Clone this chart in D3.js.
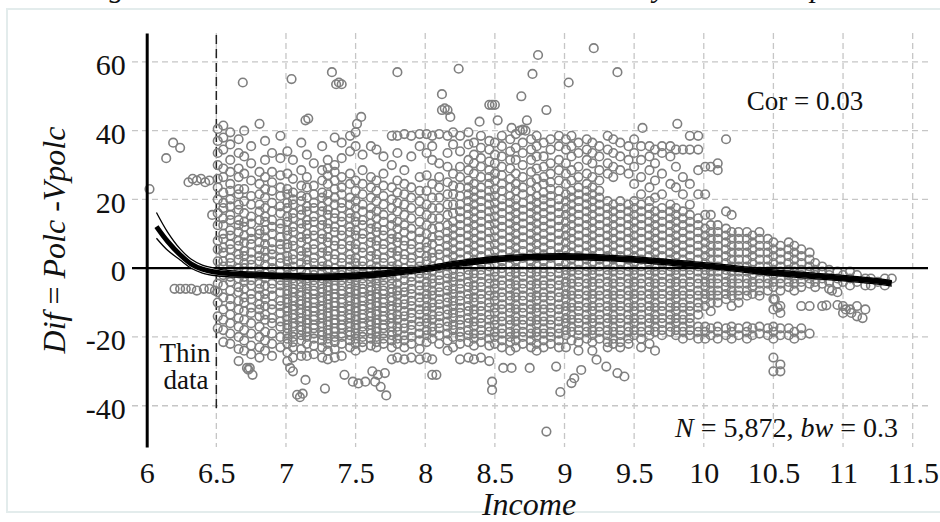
<!DOCTYPE html>
<html lang="en">
<head>
<meta charset="UTF-8">
<title>Dif vs Income</title>
<script src="https://d3js.org/d3.v7.min.js"></script>
<style>
  body { margin: 0; background: #fff; }
  svg text { font-family: "Liberation Serif", "Times New Roman", serif; fill: #111; }
</style>
</head>
<body>
<svg width="940" height="522"></svg>
<script>
const xTicks = [6, 6.5, 7, 7.5, 8, 8.5, 9, 9.5, 10, 10.5, 11, 11.5];
const yTicks = [60, 40, 20, 0, -20, -40];

// scatter, read column by column (income, then Dif values in that column)
const colIncome = [
  6.51, 6.55, 6.60, 6.66, 6.70, 6.75, 6.81, 6.85, 6.90, 6.96,
  7.01, 7.05, 7.11, 7.15, 7.20, 7.26, 7.30, 7.35, 7.40, 7.46,
  7.50, 7.55, 7.61, 7.65, 7.70, 7.76, 7.80, 7.85, 7.90, 7.96,
  8.01, 8.05, 8.10, 8.16, 8.20, 8.25, 8.31, 8.35, 8.40, 8.46,
  8.50, 8.55, 8.61, 8.65, 8.70, 8.76, 8.80, 8.85, 8.90, 8.96,
  9.01, 9.05, 9.10, 9.16, 9.20, 9.25, 9.31, 9.35, 9.40, 9.46,
  9.50, 9.55, 9.61, 9.65, 9.70, 9.76, 9.80, 9.85, 9.90, 9.96,
  10.01, 10.05, 10.10, 10.16, 10.20, 10.25, 10.31, 10.35, 10.40, 10.46,
  10.50, 10.55, 10.61, 10.65, 10.70, 10.76, 10.80, 10.85, 10.90, 10.96,
  11.00, 11.05, 11.10, 11.16, 11.20, 11.25, 11.30, 11.35
];
const colDif = [
  "40.5 37 33.5 30 26 23.5 20 16 12.5 8 5.5 2 -1 -4.5 -7 -10 -14 -17.5",
  "41.5 38 34.5 29 26.5 22 19 17.5 14.5 12.5 10 8.5 6 4.5 2 0.5 -2 -5 -8.5 -12 -15 -18 -21.5",
  "39.5 36 31.5 28 24.5 22.5 20 18 15.5 14 11 9.5 7 5.5 3 1.5 -0.5 -2.5 -4 -6.5 -9 -11 -13.5 -16 -19 -22",
  "37.5 33.5 29 26.5 23 21.5 18.5 17 14 12.5 10.5 8 6.5 4 2.5 0 -1.5 -3 -5.5 -7 -9.5 -12 -14.5 -17 -20 -23.5",
  "40 32.5 27.5 23 19.5 16 13.5 12 9.5 7.5 5 3.5 1.5 0 -2.5 -4 -6 -8.5 -10 -12.5 -15 -18 -21 -24",
  "35.5 30.5 25.5 21 18.5 15 13 10.5 8.5 7 4.5 2.5 1 -1 -3.5 -5 -7.5 -9 -11.5 -13 -16 -19 -22.5 -25",
  "28 24.5 21.5 18.5 16.5 14 11 10 7.5 5.5 3.5 2 -0.5 -2 -4.5 -6 -8 -10.5 -12 -14 -17 -20 -23 -26",
  "37 31.5 26.5 23 20.5 17.5 15 13.5 11 9 7 5 3 1 -1.5 -3 -5 -7.5 -9 -11 -13.5 -15 -18.5 -21 -24",
  "33.5 28 25 22.5 19 16.5 14 12 10 7.5 5.5 4 2 0 -2 -4.5 -6 -8 -10.5 -12 -14.5 -16 -19 -22 -25.5",
  "38.5 32 27 23.5 21 18 16 13 11.5 9 7 5.5 3 1.5 -1 -3.5 -5 -7 -9.5 -11 -13 -15.5 -17 -20 -23",

  "34 27.5 23 21.5 19 17.5 15 13.5 11 9.5 7 6 3.5 2 0 -2 -3.5 -5 -6.5 -7.5 -9 -10 -11.5 -12.5 -14 -15 -16.5 -17.5 -19 -20.5 -22 -24.5 -27",
  "31.5 26 22 20 18.5 16 14.5 12 10.5 8 6.5 4 2.5 0.5 -1 -3 -4.5 -6 -7 -8.5 -9.5 -11 -12 -13.5 -14.5 -16 -17 -18.5 -20 -21.5 -23 -26",
  "36.5 28.5 24 21 19.5 17 15.5 13 11.5 9 7.5 5 3.5 1.5 -0.5 -2.5 -4 -5.5 -7 -8 -9.5 -10.5 -12 -13 -14.5 -15.5 -17 -18 -19.5 -21 -23.5 -25.5",
  "33 26.5 23.5 20.5 18 16.5 14 12.5 10 8.5 6 4.5 2.5 1 -1.5 -3 -4.5 -6 -7.5 -8.5 -10 -11 -12.5 -13.5 -15 -16 -17.5 -18.5 -20 -22 -25.5",
  "30.5 24 21.5 19 17.5 15 13.5 11 9.5 7 5.5 3 1.5 -0.5 -2 -3.5 -5 -6.5 -7.5 -9 -10 -11.5 -12.5 -14 -15 -16.5 -17.5 -19 -20.5 -22.5 -25",
  "35.5 28.5 25.5 22 20.5 18 16.5 14 12.5 10 8.5 6 4.5 2 0.5 -1.5 -3 -4.5 -6 -7 -8.5 -9.5 -11 -12 -13.5 -14.5 -16 -17 -18.5 -19.5 -21 -23 -26",
  "31.5 29 27 24.5 21.5 19.5 17 15.5 13 11.5 9 7.5 5 3.5 1 -0.5 -2.5 -4 -5.5 -6.5 -8 -9 -10.5 -11.5 -13 -14 -15.5 -16.5 -18 -19 -20.5 -22 -24 -26.5",
  "38 30 28 25.5 23 20.5 18.5 16 14.5 12 10.5 8 6.5 4 2.5 0 -1.5 -3.5 -5 -6 -7.5 -8.5 -10 -11 -12.5 -13.5 -15 -16 -17.5 -18.5 -20 -21.5 -23.5 -26",
  "36.5 32 26.5 23.5 21.5 19 17.5 15 13.5 11 9.5 7 5.5 3 1.5 -0.5 -2 -3.5 -5 -6.5 -7.5 -9 -10 -11.5 -12.5 -14 -15 -16.5 -17.5 -19 -20 -22 -25.5",
  "38.5 34 27.5 24.5 20.5 18.5 16 14.5 12 10.5 8 6.5 4 2.5 0.5 -1 -3 -4.5 -6 -7 -8.5 -9.5 -11 -12 -13.5 -14.5 -16 -17 -18.5 -19.5 -21 -23",

  "39.5 35.5 25.5 22.5 19.5 17.5 15 13.5 11 9.5 7 5.5 3 1.5 -0.5 -2 -3.5 -5 -6.5 -7.5 -9 -10 -11.5 -12.5 -14 -15 -16.5 -17.5 -19 -20.5 -22 -24",
  "33 28.5 24.5 21.5 18.5 16.5 14 12.5 10 8.5 6 4.5 2 0.5 -1.5 -3 -4.5 -6 -7 -8.5 -9.5 -11 -12 -13.5 -14.5 -16 -17 -18.5 -20 -21.5 -23",
  "35.5 26.5 23.5 20.5 17.5 15.5 13 11.5 9 7.5 5 3.5 1 -0.5 -2.5 -4 -5.5 -6.5 -8 -9 -10.5 -11.5 -13 -14 -15.5 -16.5 -18 -19 -20.5 -22.5",
  "34.5 25.5 22.5 19.5 16.5 14.5 12 10.5 8 6.5 4 2.5 0.5 -1 -3 -4.5 -6 -7.5 -8.5 -10 -11 -12.5 -13.5 -15 -16 -17.5 -18.5 -20 -21.5 -23",
  "32.5 27.5 24 21 18.5 15.5 13.5 11 9.5 7 5.5 3 1.5 -0.5 -2 -3.5 -5 -6.5 -7.5 -9 -10 -11.5 -12.5 -14 -15 -16.5 -17.5 -19 -20.5 -22",
  "38.5 30 23.5 20 17.5 14.5 12.5 10 8.5 6 4.5 2 0.5 -1.5 -3 -4.5 -6 -7 -8.5 -9.5 -11 -12 -13.5 -14.5 -16 -17 -18.5 -19.5 -21 -23 -26.5",
  "38.5 33.5 25.5 22 19 16.5 13.5 11.5 9 7.5 5 3.5 1 -0.5 -2.5 -4.5 -6.5 -8 -10 -11.5 -13.5 -15 -17 -18.5 -20.5 -22 -26",
  "39 28.5 24.5 21.5 18.5 15.5 12.5 10.5 8 6.5 4 2.5 0 -1.5 -3.5 -5.5 -7 -9 -10.5 -12.5 -14 -16 -17.5 -19.5 -21 -23 -26.5",
  "38.5 32.5 23.5 20.5 17.5 14.5 11.5 9.5 7 5.5 3 1.5 -0.5 -2.5 -4 -6 -7.5 -9.5 -11 -13 -14.5 -16.5 -18 -20 -22 -26",
  "39 35.5 26.5 22.5 19.5 16.5 13.5 10.5 8.5 6 4.5 2 0.5 -1.5 -3 -5 -6.5 -8.5 -10 -12 -13.5 -15.5 -17 -19 -21 -23.5 -26.5",

  "39 33.5 27 22.5 18.5 15.5 12.5 10 7.5 6 3.5 2 -0.5 -2 -4 -5.5 -7.5 -9 -11 -12.5 -14.5 -16 -18 -19.5 -21.5 -26",
  "38.5 35.5 31.5 24.5 20.5 17.5 14.5 11.5 9 7 4.5 3 0.5 -1 -3 -4.5 -6.5 -8 -10 -11.5 -13.5 -15 -17 -18.5 -20.5 -26.5 -31",
  "39 30.5 26.5 23.5 20.5 17.5 14.5 12 9.5 8 5.5 4 1.5 0 -2 -3.5 -5.5 -7 -9 -10.5 -12.5 -14 -16 -17.5 -19.5 -22",
  "38.5 33.5 29.5 25 21.5 18.5 15.5 12.5 10.5 8.5 6.5 4.5 2.5 0.5 -1.5 -3 -5 -6.5 -8.5 -10 -12 -13.5 -15.5 -17 -19 -21 -24",
  "39.5 36 27.5 24 21.5 18.5 16 13.5 11.5 9.5 7.5 5.5 3.5 1.5 -0.5 -2.5 -4 -6 -7.5 -9.5 -11 -13 -14.5 -16.5 -18 -20 -23",
  "38.5 34 29.5 26.5 23.5 21 18.5 16.5 14.5 12.5 10.5 8.5 6.5 4.5 2.5 1 -1 -2.5 -4.5 -6 -8 -9.5 -11.5 -13 -15 -16.5 -18.5 -20 -22 -26.5",
  "39.5 36 31.5 28.5 25.5 23.5 21.5 19.5 17.5 15.5 13.5 11.5 9.5 7.5 5.5 3.5 1.5 -0.5 -2 -4 -5.5 -7.5 -9 -11 -12.5 -14.5 -16 -18 -19.5 -21.5 -26",
  "36.5 33 30.5 27.5 24.5 22.5 20.5 18.5 16.5 14.5 12.5 10.5 8.5 6.5 4.5 2.5 0.5 -1.5 -3 -5 -6.5 -8.5 -10 -12 -13.5 -15.5 -17 -19 -20.5 -22.5 -26.5",
  "38.5 35 32 29.5 26.5 23.5 21.5 19.5 17.5 15.5 13.5 11.5 9.5 7.5 5.5 3.5 1.5 -0.5 -2 -4 -5.5 -7.5 -9 -11 -12.5 -14.5 -16 -18 -19.5 -21.5 -26",
  "37 34.5 31 28.5 26.5 24.5 22.5 20.5 18.5 16.5 14.5 12.5 10.5 8.5 6.5 4.5 2.5 0.5 -1 -3 -4.5 -6.5 -8 -10 -11.5 -13.5 -15 -17 -18.5 -20.5 -22.5 -27",

  "36.5 33 30.5 27.5 25.5 23 21 19 17 15 13 11 9 7 5 3 1 -1 -2.5 -4.5 -6 -8 -9.5 -11.5 -13 -15 -16.5 -18.5 -20 -22",
  "38.5 35.5 32.5 29.5 27 24.5 22.5 20 18 16 14 12 10 8 6 4 2 0 -1.5 -3.5 -5 -7 -8.5 -10.5 -12 -14 -15.5 -17.5 -19 -21 -23",
  "37.5 34 31.5 29 26 23.5 21 19 17 15 13 11 9 7 5 3 1 -1 -2.5 -4.5 -6 -8 -9.5 -11.5 -13 -15 -16.5 -18.5 -20 -21.5 -24",
  "39 35 31.5 27.5 24.5 22.5 20 18 16 14 12 10 8 6 4 2 0 -1.5 -3.5 -5 -7 -8.5 -10.5 -12 -14 -15.5 -17.5 -19 -21 -23",
  "36.5 33.5 30 26.5 23.5 21.5 19 17 15 13 11 9 7 5 3 1 -1 -2.5 -4.5 -6 -8 -9.5 -11.5 -13 -15 -16.5 -18.5 -20 -22",
  "37.5 34.5 31.5 28 25 22.5 20 18 16 14 12 10 8 6 4 2 0 -1.5 -3.5 -5 -7 -8.5 -10.5 -12 -14 -15.5 -17.5 -19 -21 -23",
  "38.5 35.5 32.5 29 26 23.5 21 19 17 15 13 11 9 7 5 3 1 -1 -2.5 -4.5 -6 -8 -9.5 -11.5 -13 -15 -16.5 -18.5 -20 -22 -24",
  "36.5 32.5 29.5 26.5 24.5 22 20 18 16 14 12 10 8 6 4 2 0 -1.5 -3.5 -5 -7 -8.5 -10.5 -12 -14 -15.5 -17.5 -19 -21 -23",
  "37.5 34.5 30.5 27.5 25 23 21 19 17 15 13 11 9 7 5 3 1 -1 -2.5 -4.5 -6 -8 -9.5 -11.5 -13 -15 -16.5 -18.5 -20 -22",
  "38.5 35.5 31.5 28.5 25.5 22.5 20 18 16 14 12 10 8 6 4 2 0 -1.5 -3.5 -5 -7 -8.5 -10.5 -12 -14 -15.5 -17.5 -19 -21 -23",

  "37.5 34.5 30.5 27.5 24.5 21.5 19.5 17.5 15.5 13.5 11.5 9.5 7.5 5.5 3.5 1.5 -0.5 -2 -4 -5.5 -7.5 -9 -11 -12.5 -14.5 -16 -18 -19.5 -23",
  "38.5 35.5 32.5 28.5 25.5 22.5 20.5 18.5 16.5 14.5 12.5 10.5 8.5 6.5 4.5 2.5 0.5 -1 -3 -4.5 -6.5 -8 -10 -11.5 -13.5 -15 -17 -18.5 -21",
  "36.5 33.5 29.5 26.5 23.5 21.5 19.5 17.5 15.5 13.5 11.5 9.5 7.5 5.5 3.5 1.5 -0.5 -2 -4 -5.5 -7.5 -9 -11 -12.5 -14.5 -16 -18 -19.5 -21.5 -24",
  "37.5 34.5 31.5 27.5 24.5 22.5 20.5 18.5 16.5 14.5 12.5 10.5 8.5 6.5 4.5 2.5 0.5 -1 -3 -4.5 -6.5 -8 -10 -11.5 -13.5 -15 -17 -18.5 -20.5",
  "36.5 33.5 30.5 26.5 23.5 21.5 19.5 17.5 15.5 13.5 11.5 9.5 7.5 5.5 3.5 1.5 -0.5 -2 -4 -5.5 -7.5 -9 -11 -12.5 -14.5 -16 -18 -19.5 -21.5 -24",
  "35.5 32.5 28.5 25.5 22.5 20.5 18.5 16.5 14.5 12.5 10.5 8.5 6.5 4.5 2.5 0.5 -1 -3 -4.5 -6.5 -8 -10 -11.5 -13.5 -15 -17 -18.5 -20.5",
  "38.5 34.5 30.5 27.5 19.5 17.5 15.5 13.5 11.5 9.5 7.5 5.5 3.5 1.5 -0.5 -2 -4 -5.5 -7.5 -9 -11 -12.5 -14.5 -16 -18 -19.5 -21.5 -23",
  "37.5 33.5 29.5 26.5 18.5 16.5 14.5 12.5 10.5 8.5 6.5 4.5 2.5 0.5 -1 -3 -4.5 -6.5 -8 -10 -11.5 -13.5 -15 -17 -18.5 -20.5 -22",
  "36.5 32.5 28.5 19.5 17.5 15.5 13.5 11.5 9.5 7.5 5.5 3.5 1.5 -0.5 -2 -4 -5.5 -7.5 -9 -11 -12.5 -14.5 -16 -18 -19.5 -21.5 -23",
  "35.5 31.5 27.5 18.5 16.5 14.5 12.5 10.5 8.5 6.5 4.5 2.5 0.5 -1 -3 -4.5 -6.5 -8 -10 -11.5 -13.5 -15 -17 -18.5 -20.5 -22",

  "37.5 33.5 29.5 24.5 19.5 17.5 15.5 13.5 11.5 9.5 7.5 5.5 3.5 1.5 -0.5 -2 -4 -5.5 -7.5 -9 -11 -12.5 -14.5 -16 -18 -19.5",
  "35.5 31.5 26.5 21.5 18.5 16.5 14.5 12.5 10.5 8.5 6.5 4.5 2.5 0.5 -1 -3 -4.5 -6.5 -8 -10 -11.5 -13.5 -15 -17 -18.5 -20.5 -23",
  "35.5 32.5 28.5 23.5 19.5 17.5 15.5 13.5 11.5 9.5 7.5 5.5 3.5 1.5 -0.5 -2 -4 -5.5 -7.5 -9 -11 -12.5 -14.5 -16 -18 -19.5 -22",
  "34.5 30.5 25.5 20.5 16.5 14.5 12.5 10.5 8.5 6.5 4.5 2.5 0.5 -1 -3 -4.5 -6.5 -8 -10 -11.5 -13.5 -15 -17 -18.5 -24",
  "35.5 33.5 27.5 21.5 17.5 15.5 13.5 11.5 9.5 7.5 5.5 3.5 1.5 -0.5 -2 -4 -5.5 -7.5 -9 -11 -12.5 -14.5 -16 -18 -19.5",
  "35.5 32.5 24.5 18.5 16.5 14.5 12.5 10.5 8.5 6.5 4.5 2.5 0.5 -1 -3 -4.5 -6.5 -8 -10 -11.5 -13.5 -15 -17 -18.5",
  "34.5 29.5 23.5 17.5 15.5 13.5 11.5 9.5 7.5 5.5 3.5 1.5 -0.5 -2 -4 -5.5 -7.5 -9 -11 -12.5 -14.5 -16 -18 -19.5",
  "34.5 26.5 21.5 16.5 14.5 12.5 10.5 8.5 6.5 4.5 2.5 0.5 -1 -3 -4.5 -6.5 -8 -10 -11.5 -13.5 -15 -17 -18.5 -20.5",
  "38.5 34.5 24.5 18.5 15.5 13.5 11.5 9.5 7.5 5.5 3.5 1.5 -0.5 -2 -4 -5.5 -7.5 -9 -11 -12.5 -14.5 -16 -18 -19.5",
  "38.5 34.5 28.5 21.5 14.5 12.5 10.5 8.5 6.5 4.5 2.5 0.5 -1 -3 -4.5 -6.5 -8 -10 -11.5 -13.5 -17 -18.5 -20.5",

  "29.5 21.5 15.5 11.5 9.5 7.5 5.5 3.5 1.5 -0.5 -2 -4 -5.5 -7.5 -9 -11 -17 -18.5 -20.5",
  "29.5 15.5 12.5 10.5 8.5 6.5 4.5 2.5 0.5 -1 -3 -4.5 -6.5 -8 -10 -12.5 -17.5 -19.5",
  "30.5 28.5 12.5 10.5 8.5 6.5 4.5 2.5 0.5 -1 -3 -4.5 -6.5 -8 -10 -17 -18.5 -20.5",
  "37.5 16.5 11.5 9.5 7.5 5.5 3.5 1.5 -0.5 -2 -4 -5.5 -7.5 -9 -17.5 -19.5",
  "15.5 10.5 8.5 6.5 4.5 2.5 0.5 -1 -3 -4.5 -6.5 -8 -11 -17 -18.5 -20.5",
  "10.5 8.5 6.5 4.5 2.5 0.5 -1 -3 -4.5 -6.5 -8 -10 -17.5 -19.5",
  "10.5 8.5 6.5 4.5 2.5 0.5 -1 -3 -4.5 -6.5 -8 -17 -18.5 -20.5",
  "9.5 7.5 5.5 3.5 1.5 -0.5 -2 -4 -5.5 -7.5 -17.5 -19.5",
  "10.5 8.5 6.5 4.5 2.5 0.5 -1 -3 -4.5 -6.5 -8 -17 -19",
  "8.5 6.5 4.5 2.5 0.5 -1 -3 -4.5 -6.5 -17.5 -19.5",

  "7.5 5.5 3.5 1.5 -0.5 -2 -4 -5.5 -9 -12 -17 -18.5 -20.5 -26 -30",
  "6.5 4.5 2.5 0.5 -1 -3 -4.5 -6.5 -11 -13 -17.5 -19.5 -28 -30",
  "7.5 5.5 3.5 1.5 -0.5 -2 -4 -5.5 -17.5 -19.5",
  "6.5 4.5 2.5 0.5 -1 -3 -4.5 -6.5 -18.5 -20.5",
  "5.5 3.5 1.5 -0.5 -2 -4 -5.5 -11 -17.5 -19.5",
  "4.5 2.5 0.5 -1 -3 -4.5 -11 -19",
  "1.5 -0.5 -2 -4 -5.5",
  "0.5 -1 -3 -4.5 -11",
  "-0.5 -2 -4 -6",
  "-1 -3 -4.5 -7",

  "-2 -4 -11 -13",
  "-1 -3 -5 -12",
  "-2 -4 -11 -14",
  "-3 -5 -12",
  "-3 -5",
  "-4",
  "-3 -5",
  "-3"
];

// single points away from the columns: thin-data area and outliers
const extraPoints = [
  [6.02, 23], [6.14, 32], [6.19, 36.5], [6.24, 35], [6.30, 25], [6.33, 26], [6.36, 25.5],
  [6.39, 26], [6.42, 25], [6.45, 25.5], [6.47, 15.5], [6.20, -6], [6.24, -6], [6.28, -6],
  [6.32, -6], [6.36, -6.5], [6.41, -6], [6.45, -6], [6.49, -6.5],
  [6.69, 54], [7.04, 55], [7.33, 57], [7.36, 53.5], [7.38, 54], [7.40, 53.5], [7.80, 57],
  [8.24, 58], [8.12, 50.6], [8.12, 46], [8.14, 46.5], [8.16, 46], [8.18, 44], [7.14, 43],
  [7.16, 43.5], [6.81, 42], [7.54, 44], [7.51, 42], [8.81, 62], [9.21, 64], [8.77, 56.5],
  [9.38, 57], [9.03, 54], [8.69, 50], [8.46, 47.5], [8.48, 47.5], [8.50, 47.5], [8.87, 46],
  [8.39, 42.6], [8.52, 43], [8.73, 43], [9.81, 42], [9.56, 40.8], [8.62, 40.8], [8.68, 40],
  [8.70, 40.3], [8.72, 40],
  [6.66, -27], [6.72, -29], [6.73, -29.5], [6.74, -29], [6.76, -31], [7.03, -29], [7.05, -30],
  [7.14, -32.5], [7.08, -36.8], [7.10, -37.5], [7.12, -36.5], [7.28, -35], [7.42, -31],
  [7.48, -33], [7.52, -33.5], [7.57, -33], [7.62, -30], [7.64, -33], [7.66, -31], [7.68, -34.5],
  [7.71, -30.5], [7.72, -37], [8.08, -31], [8.48, -33], [8.48, -35.4], [8.56, -29], [8.62, -29],
  [8.75, -29], [8.87, -47.5], [8.94, -28.6], [8.97, -36], [9.05, -33.4], [9.07, -32],
  [9.12, -29.6], [9.23, -26.6], [9.30, -28.6], [9.38, -30.5], [9.43, -31.5],
  [10.96, -10.7], [11.02, -12], [11.06, -13], [11.14, -14.5], [10.51, -9], [10.53, -11.5],
  [10.88, -10.8], [10.92, -6.5]
];

// local fit and its band
const fitIncome = [6.07, 6.15, 6.24, 6.32, 6.40, 6.50, 6.60, 6.75, 7.0, 7.25, 7.5, 7.75, 8.0,
  8.25, 8.5, 8.75, 9.0, 9.33, 9.67, 10.0, 10.25, 10.5, 10.75, 11.0, 11.2, 11.35];
const fitDif = [12.1, 7.8, 3.9, 1.2, -0.3, -1.2, -1.6, -1.9, -2.3, -2.5, -2.2, -1.4, -0.2,
  1.4, 2.6, 3.2, 3.4, 2.9, 2.0, 0.8, -0.2, -1.3, -2.1, -2.9, -3.6, -4.4];
const fitUpper = [16.2, 10.5, 5.6, 2.6, 0.9, -0.1, -0.7, -1.1, -1.5, -1.7, -1.4, -0.6, 0.6,
  2.2, 3.4, 4.0, 4.2, 3.7, 2.8, 1.6, 0.6, -0.5, -1.3, -2.1, -2.8, -3.6];
const fitLower = [8.7, 5.2, 2.4, 0.0, -1.4, -2.2, -2.5, -2.7, -3.1, -3.3, -3.0, -2.2, -1.0,
  0.6, 1.8, 2.4, 2.6, 2.1, 1.2, 0.0, -1.0, -2.1, -2.9, -3.7, -4.4, -5.2];

const svg = d3.select("svg");
const x = d3.scaleLinear().domain([6, 11.61]).range([146.7, 928]);
const y = d3.scaleLinear().domain([-52, 68.4]).range([447, 33]);

// faint frame of the figure panel
svg.append("rect")
  .attr("x", 7).attr("y", 9).attr("width", 960).attr("height", 503)
  .attr("fill", "none").attr("stroke", "#e3ecec").attr("stroke-width", 2);

// descenders of the cropped caption above
svg.selectAll("text.cap")
  .data([["g", 117], ["y", 660], ["p", 818]])
  .join("text")
  .attr("class", "cap")
  .attr("x", d => d[1]).attr("y", -3)
  .attr("text-anchor", "middle")
  .style("font-size", "30px").style("font-style", "italic")
  .text(d => d[0]);

// grid
svg.append("g").selectAll("line")
  .data(yTicks.filter(d => d !== 0))
  .join("line")
  .attr("x1", 132).attr("x2", 928)
  .attr("y1", d => y(d)).attr("y2", d => y(d))
  .attr("stroke", "#c6c6c6").attr("stroke-width", 1.3).attr("stroke-dasharray", "6,4");

svg.append("g").selectAll("line")
  .data(xTicks.filter(d => d !== 6))
  .join("line")
  .attr("x1", d => x(d)).attr("x2", d => x(d))
  .attr("y1", 33).attr("y2", 447)
  .attr("stroke", "#c6c6c6").attr("stroke-width", 1.3).attr("stroke-dasharray", "6,4");

// thin-data cutoff
svg.append("line")
  .attr("x1", x(6.5)).attr("x2", x(6.5))
  .attr("y1", 35).attr("y2", 410)
  .attr("stroke", "#222").attr("stroke-width", 1.5).attr("stroke-dasharray", "9,5");

// points
const points = [];
colIncome.forEach((inc, i) => {
  colDif[i].split(" ").forEach(v => points.push([inc, +v]));
});
extraPoints.forEach(p => points.push(p));

svg.append("g").selectAll("circle")
  .data(points)
  .join("circle")
  .attr("cx", d => x(d[0]))
  .attr("cy", d => y(d[1]))
  .attr("r", 4.3)
  .attr("fill", "none")
  .attr("stroke", "#7f7f7f")
  .attr("stroke-width", 1.6);

// zero line
svg.append("line")
  .attr("x1", 132).attr("x2", 928)
  .attr("y1", y(0)).attr("y2", y(0))
  .attr("stroke", "#000").attr("stroke-width", 2.2);

// y axis
const yAxis = svg.append("g")
  .attr("transform", `translate(${x(6)},0)`)
  .call(d3.axisLeft(y).tickValues(yTicks).tickSize(0).tickSizeOuter(0).tickPadding(21)
    .tickFormat(d => String(d)));
yAxis.select(".domain").attr("stroke", "#000").attr("stroke-width", 3);
yAxis.selectAll("text")
  .attr("dy", "0.42em")
  .style("font-size", "30px")
  .style("font-family", "'Liberation Serif', serif")
  .attr("fill", "#111");

// x axis labels
const xAxis = svg.append("g")
  .attr("transform", "translate(0,447)")
  .call(d3.axisBottom(x).tickValues(xTicks).tickSize(0).tickPadding(15)
    .tickFormat(d => String(d)));
xAxis.select(".domain").remove();
xAxis.selectAll("text")
  .style("font-size", "30px")
  .style("font-family", "'Liberation Serif', serif")
  .attr("fill", "#111");

// fit with band
const fitData = fitIncome.map((v, i) => ({ inc: v, fit: fitDif[i], hi: fitUpper[i], lo: fitLower[i] }));
const band = d3.area()
  .x(d => x(d.inc)).y0(d => y(d.lo)).y1(d => y(d.hi))
  .curve(d3.curveCatmullRom);
svg.append("path").datum(fitData)
  .attr("d", band).attr("fill", "#fff").attr("stroke", "none");
["hi", "lo"].forEach(k => {
  svg.append("path").datum(fitData)
    .attr("d", d3.line().x(d => x(d.inc)).y(d => y(d[k])).curve(d3.curveCatmullRom))
    .attr("fill", "none").attr("stroke", "#000").attr("stroke-width", 1.3);
});
svg.append("path").datum(fitData)
  .attr("d", d3.line().x(d => x(d.inc)).y(d => y(d.fit)).curve(d3.curveCatmullRom))
  .attr("fill", "none").attr("stroke", "#000").attr("stroke-width", 5);

// annotations
svg.append("text").attr("x", 185).attr("y", 362).attr("text-anchor", "middle")
  .style("font-size", "27px").text("Thin");
svg.append("text").attr("x", 186).attr("y", 389).attr("text-anchor", "middle")
  .style("font-size", "27px").text("data");

svg.append("text").attr("x", 805).attr("y", 110).attr("text-anchor", "middle")
  .style("font-size", "27px").text("Cor = 0.03");

const nText = svg.append("text").attr("x", 898).attr("y", 437).attr("text-anchor", "end")
  .style("font-size", "28px");
nText.append("tspan").style("font-style", "italic").text("N");
nText.append("tspan").text(" = 5,872, ");
nText.append("tspan").style("font-style", "italic").text("bw");
nText.append("tspan").text(" = 0.3");

// axis titles
const yTitle = svg.append("text")
  .attr("transform", "translate(65,240) rotate(-90)")
  .attr("text-anchor", "middle")
  .style("font-size", "32px");
yTitle.append("tspan").style("font-style", "italic").text("Dif");
yTitle.append("tspan").text(" = ");
yTitle.append("tspan").style("font-style", "italic").text("Polc -Vpolc");

svg.append("text").attr("x", 529).attr("y", 515).attr("text-anchor", "middle")
  .style("font-size", "32px").style("font-style", "italic").text("Income");
</script>
</body>
</html>
